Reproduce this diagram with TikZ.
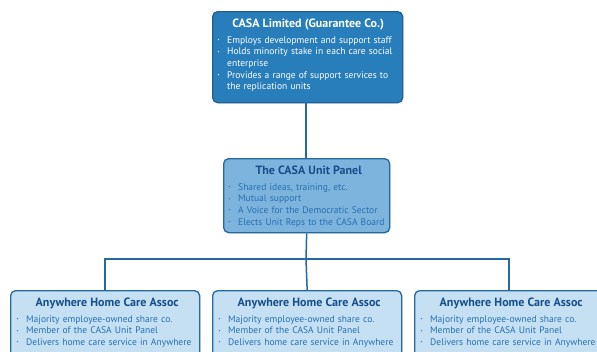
\documentclass[tikz,border=0pt]{standalone}
\usepackage{fontspec}
\setmainfont{PT Sans}
\usetikzlibrary{shadows}
\definecolor{topfill}{RGB}{40,126,186}
\definecolor{topline}{RGB}{30,96,150}
\definecolor{midfill}{RGB}{124,180,222}
\definecolor{botfill}{RGB}{198,224,243}
\definecolor{boxline}{RGB}{36,105,160}
\definecolor{darktxt}{RGB}{22,78,138}
\definecolor{bultxt}{RGB}{38,112,176}
\definecolor{conn}{RGB}{36,105,160}
\newlength\calw
\newlength\calt
\AtBeginDocument{%
  \settowidth\calw{\fontsize{10}{12}\selectfont Employs development and support staff}%
  \settowidth\calt{\fontsize{10}{12}\selectfont\bfseries CASA Limited (Guarantee Co.)}%
  \pgfmathsetmacro\bodysz{10*162.6/\calw}%
  \pgfmathsetmacro\titlesz{10*151.6/\calt}%
}
\newcommand{\bl}[1]{\par\hangindent=10bp\hangafter=1\noindent\makebox[10bp][l]{\hspace{0.5bp}\raisebox{0.35ex}{\fontsize{4.5}{4.5}\selectfont •}}#1\par}
\newcommand{\ttl}[1]{{\centering\fontsize{\titlesz}{12bp}\selectfont\bfseries #1\par}\vspace{4.5bp}}
\tikzset{
  box/.style={draw=boxline, line width=1.3bp, rounded corners=5bp, anchor=north west, inner sep=0pt,
    drop shadow={opacity=0.25, shadow xshift=0.8bp, shadow yshift=-0.8bp}},
  topbox/.style={box, draw=topline, fill=topfill, minimum width=190bp, minimum height=91bp},
  midbox/.style={box, fill=midfill, minimum width=166bp, minimum height=74bp},
  botbox/.style={box, fill=botfill, minimum width=189bp, minimum height=80bp},
  txt/.style={anchor=north west, inner sep=0pt, font=\fontsize{\bodysz}{11.6bp}\selectfont},
  conline/.style={draw=conn, line width=1.5bp}
}
\begin{document}
\begin{tikzpicture}[x=1bp,y=-1bp]
\clip (0,0) rectangle (597,351);
\fill[white] (0,0) rectangle (597,351);
\coordinate (jc) at (306,259);
% boxes
\node[topbox] (top) at (212,11) {};
\node[midbox] (mid) at (223,158) {};
\node[botbox] (bl) at (10,290) {};
\node[botbox] (bm) at (212,290) {};
\node[botbox] (br) at (414,290) {};
\draw[conline] (306,102) -- (306,158);
\draw[conline] (mid.south) -- (jc);
\draw[conline] (bl.north) |- (jc) -| (br.north);
\draw[conline] (jc) -- (bm.north);
% texts
\node[txt, text width=182bp, text=white] (toptxt) at ([shift={(5bp,-7.5bp)}]top.north west) {%
\ttl{CASA Limited (Guarantee Co.)}\raggedright
\bl{Employs development and support staff}
\bl{Holds minority stake in each care social enterprise}
\bl{Provides a range of support services to the replication units}};
\node[txt, text width=161bp, text=bultxt] (midtxt) at ([shift={(5bp,-7.5bp)}]mid.north west) {%
{\color{darktxt}\ttl{The CASA Unit Panel}}\raggedright
\bl{Shared ideas, training, etc.}
\bl{Mutual support}
\bl{A Voice for the Democratic Sector}
\bl{Elects Unit Reps to the CASA Board}};
\node[txt, text width=182bp, text=bultxt] (bltxt) at ([shift={(6bp,-7.5bp)}]bl.north west) {%
{\color{darktxt}\ttl{Anywhere Home Care Assoc}}\raggedright
\bl{Majority employee-owned share co.}
\bl{Member of the CASA Unit Panel}
\bl{Delivers home care service in Anywhere}};
\node[txt, text width=182bp, text=bultxt] (bmtxt) at ([shift={(6bp,-7.5bp)}]bm.north west) {%
{\color{darktxt}\ttl{Anywhere Home Care Assoc}}\raggedright
\bl{Majority employee-owned share co.}
\bl{Member of the CASA Unit Panel}
\bl{Delivers home care service in Anywhere}};
\node[txt, text width=182bp, text=bultxt] (brtxt) at ([shift={(6bp,-7.5bp)}]br.north west) {%
{\color{darktxt}\ttl{Anywhere Home Care Assoc}}\raggedright
\bl{Majority employee-owned share co.}
\bl{Member of the CASA Unit Panel}
\bl{Delivers home care service in Anywhere}};
\end{tikzpicture}
\end{document}
